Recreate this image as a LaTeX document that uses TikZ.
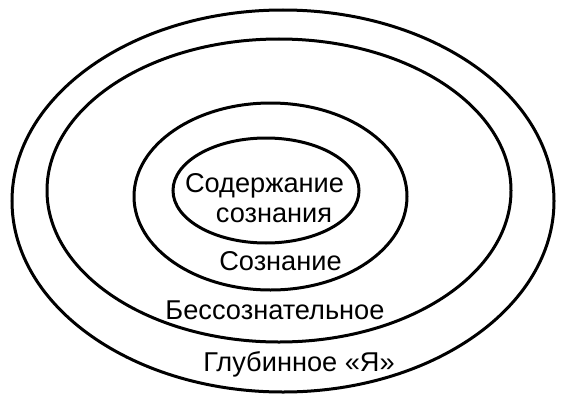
\documentclass[tikz,border=0pt]{standalone}
\usepackage{fontspec}
\setmainfont{Liberation Sans}
\tikzset{ring/.style={draw=black, line width=3pt}, lbl/.style={anchor=base, inner sep=0pt, font=\fontsize{27.2}{30}\selectfont}}
\begin{document}
\begin{tikzpicture}[x=1pt, y=1pt]
    \useasboundingbox (0,0) rectangle (575,400);
    \draw[ring] (283,199) ellipse [x radius=271, y radius=191];
    \draw[ring] (279,209.5) ellipse [x radius=232, y radius=151.5];
    \draw[ring] (270.5,203.5) ellipse [x radius=136.5, y radius=93.5];
    \draw[ring] (266,209.5) ellipse [x radius=93, y radius=52.5];
    \node[lbl] (content1) at (264.5,208) {Содержание};
    \node[lbl] (content2) at (274,178) {сознания};
    \node[lbl] (conscious) at (280.5,130) {Сознание};
    \node[lbl] (unconscious) at (275,81) {Бессознательное};
    \node[lbl] (deepself) at (299,29) {Глубинное «Я»};
\end{tikzpicture}
\end{document}
